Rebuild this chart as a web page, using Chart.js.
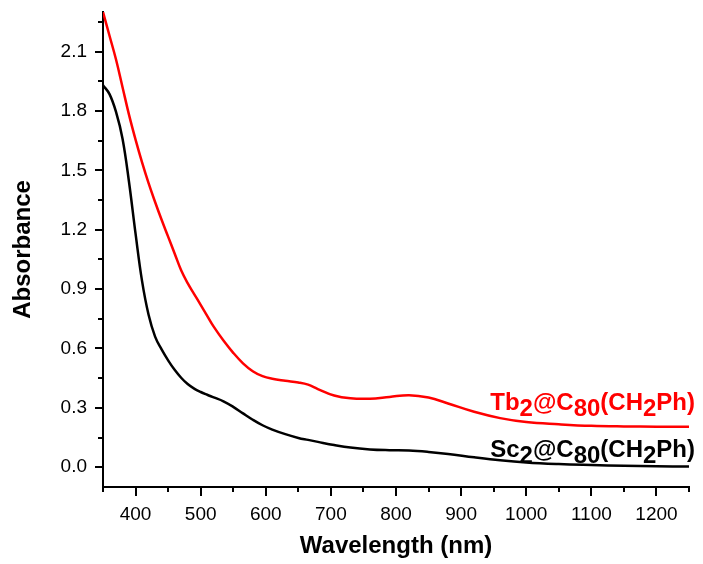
<!DOCTYPE html>
<html>
<head>
<meta charset="utf-8">
<script src="https://cdn.jsdelivr.net/npm/chart.js@4.4.1/dist/chart.umd.min.js"></script>
<style>
  html, body { margin: 0; padding: 0; background: #fff; }
  #wrap { width: 703px; height: 564px; }
</style>
</head>
<body>
<div id="wrap"><canvas id="uvChart" width="703" height="564"></canvas></div>
<script>
// wavelength (nm)
const wavelengths = [350, 360, 370, 380, 390, 400, 410, 420, 430, 440, 450, 460, 470, 480, 490, 500, 510, 520, 535, 550, 565, 580, 595, 610, 630, 650, 665, 680, 705, 730, 760, 790, 820, 850, 880, 920, 960, 1000, 1050, 1100, 1150, 1200, 1250];
// Tb2@C80(CH2Ph)
const tbAbs = [2.30, 2.18, 2.06, 1.92, 1.78, 1.655, 1.54, 1.435, 1.34, 1.25, 1.165, 1.08, 0.995, 0.93, 0.875, 0.82, 0.765, 0.71, 0.64, 0.578, 0.525, 0.485, 0.46, 0.447, 0.437, 0.428, 0.417, 0.395, 0.362, 0.348, 0.346, 0.355, 0.364, 0.352, 0.322, 0.28, 0.248, 0.228, 0.217, 0.209, 0.206, 0.205, 0.204];
// Sc2@C80(CH2Ph)
const scAbs = [1.93, 1.885, 1.795, 1.66, 1.44, 1.18, 0.94, 0.77, 0.66, 0.595, 0.54, 0.492, 0.452, 0.42, 0.397, 0.38, 0.366, 0.353, 0.333, 0.305, 0.272, 0.24, 0.212, 0.19, 0.167, 0.148, 0.138, 0.128, 0.112, 0.099, 0.09, 0.086, 0.084, 0.077, 0.067, 0.05, 0.035, 0.024, 0.016, 0.011, 0.007, 0.005, 0.003];

const xTicks = [400, 500, 600, 700, 800, 900, 1000, 1100, 1200];
const xMinorTicks = [350, 450, 550, 650, 750, 850, 950, 1050, 1150, 1250];
const yTicks = [0.0, 0.3, 0.6, 0.9, 1.2, 1.5, 1.8, 2.1];
const yMinorTicks = [0.15, 0.45, 0.75, 1.05, 1.35, 1.65, 1.95, 2.25];

// curve labels: [text, subscript?] pieces, and where their baseline sits (absorbance)
const tbLabel = [['Tb', 0], ['2', 1], ['@C', 0], ['80', 1], ['(CH', 0], ['2', 1], ['Ph)', 0]];
const scLabel = [['Sc', 0], ['2', 1], ['@C', 0], ['80', 1], ['(CH', 0], ['2', 1], ['Ph)', 0]];
const tbLabelY = 0.29;
const scLabelY = 0.053;

const FONT = "'Liberation Sans', Arial, sans-serif";

function toPoints(xs, ys) {
  return xs.map((x, i) => ({ x: x, y: ys[i] }));
}

const extrasPlugin = {
  id: 'extras',
  afterDraw(chart) {
    const { ctx, chartArea, scales } = chart;
    const xs = scales.x, ys = scales.y;
    ctx.save();
    ctx.strokeStyle = '#000';
    ctx.lineWidth = 2;
    ctx.lineCap = 'butt';
    ctx.beginPath();
    xTicks.forEach(v => {
      const px = Math.round(xs.getPixelForValue(v));
      ctx.moveTo(px, chartArea.bottom);
      ctx.lineTo(px, chartArea.bottom + 9);
    });
    xMinorTicks.forEach(v => {
      const px = Math.round(xs.getPixelForValue(v));
      ctx.moveTo(px, chartArea.bottom);
      ctx.lineTo(px, chartArea.bottom + 5);
    });
    yTicks.forEach(v => {
      const py = Math.round(ys.getPixelForValue(v));
      ctx.moveTo(chartArea.left, py);
      ctx.lineTo(chartArea.left - 8, py);
    });
    yMinorTicks.forEach(v => {
      const py = Math.round(ys.getPixelForValue(v));
      ctx.moveTo(chartArea.left, py);
      ctx.lineTo(chartArea.left - 5, py);
    });
    ctx.stroke();

    // curve labels
    ctx.font = 'bold 24px ' + FONT;
    ctx.textBaseline = 'alphabetic';
    ctx.textAlign = 'left';
    const drawLabel = (parts, yVal, color) => {
      const total = parts.reduce((s, p) => s + ctx.measureText(p[0]).width, 0);
      let x = chartArea.right + 6 - total;
      const base = ys.getPixelForValue(yVal);
      ctx.fillStyle = color;
      parts.forEach(p => {
        ctx.fillText(p[0], x, base + (p[1] ? 6 : 0));
        x += ctx.measureText(p[0]).width;
      });
    };
    drawLabel(tbLabel, tbLabelY, '#ff0000');
    drawLabel(scLabel, scLabelY, '#000000');
    ctx.restore();
  }
};

const ctx = document.getElementById('uvChart').getContext('2d');
new Chart(ctx, {
  type: 'line',
  data: {
    datasets: [
      {
        label: 'Tb2@C80(CH2Ph)',
        data: toPoints(wavelengths, tbAbs),
        borderColor: '#ff0000',
        borderWidth: 2.5,
        pointRadius: 0,
        tension: 0.4,
        fill: false
      },
      {
        label: 'Sc2@C80(CH2Ph)',
        data: toPoints(wavelengths, scAbs),
        borderColor: '#000000',
        borderWidth: 2.5,
        pointRadius: 0,
        tension: 0.4,
        fill: false
      }
    ]
  },
  options: {
    responsive: false,
    animation: false,
    events: [],
    layout: { padding: { left: 0, top: 12, right: 14, bottom: 0 } },
    plugins: {
      legend: { display: false },
      tooltip: { enabled: false }
    },
    scales: {
      x: {
        type: 'linear',
        min: 350,
        max: 1250,
        afterBuildTicks: s => { s.ticks = xTicks.map(v => ({ value: v })); },
        afterFit: s => { s.height = 77; s.paddingLeft = 0; s.paddingRight = 0; },
        grid: { display: false, drawTicks: false },
        border: { display: true, color: '#000', width: 2 },
        ticks: {
          color: '#000',
          padding: 16,
          maxRotation: 0,
          autoSkip: false,
          font: { family: FONT, size: 19 },
          callback: v => String(v)
        },
        title: {
          display: true,
          text: 'Wavelength (nm)',
          color: '#000',
          padding: { top: 0, bottom: 3 },
          font: { family: FONT, size: 24, weight: 'bold' }
        }
      },
      y: {
        type: 'linear',
        min: -0.1,
        max: 2.3,
        afterBuildTicks: s => { s.ticks = yTicks.map(v => ({ value: v })); },
        afterFit: s => { s.width = 103; s.paddingTop = 0; s.paddingBottom = 0; },
        grid: { display: false, drawTicks: false },
        border: { display: true, color: '#000', width: 2 },
        ticks: {
          color: '#000',
          padding: 16,
          autoSkip: false,
          font: { family: FONT, size: 19 },
          callback: v => v.toFixed(1)
        },
        title: {
          display: true,
          text: 'Absorbance',
          color: '#000',
          padding: { top: 9, bottom: 0 },
          font: { family: FONT, size: 24, weight: 'bold' }
        }
      }
    }
  },
  plugins: [extrasPlugin]
});
</script>
</body>
</html>
